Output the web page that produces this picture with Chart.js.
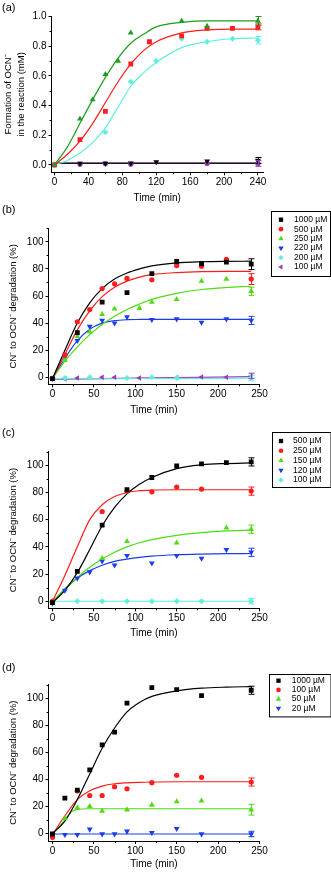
<!DOCTYPE html>
<html>
<head>
<meta charset="utf-8">
<script src="https://cdn.jsdelivr.net/npm/chart.js@4.4.1/dist/chart.umd.min.js"></script>
<style>
  body { margin: 0; background: #fff; }
  #fig { position: relative; width: 331px; height: 874px; overflow: hidden; font-family: "Liberation Sans", Arial, sans-serif; }
  canvas { position: absolute; left: 0; }
  .lbl { position: absolute; left: 2px; font-size: 11px; line-height: 13px; color: #000; z-index: 2; }
</style>
</head>
<body>
<div id="fig">
  <canvas id="ca" width="331" height="208" style="top:0px"></canvas>
  <canvas id="cb" width="331" height="212" style="top:208px"></canvas>
  <canvas id="cc" width="331" height="224" style="top:420px"></canvas>
  <canvas id="cd" width="331" height="230" style="top:644px"></canvas>
  <div class="lbl" style="top:1px">(a)</div>
  <div class="lbl" style="top:203px">(b)</div>
  <div class="lbl" style="top:426px">(c)</div>
  <div class="lbl" style="top:661px">(d)</div>
</div>
<script>
const FONT = '"Liberation Sans", Arial, sans-serif'

// ---- panel (a): OCN- formation (mM)
const timeA = [0, 30, 45, 60, 75, 90, 112, 120, 150, 180, 210, 240]
const aGreen = [0, 0.31, 0.44, 0.61, 0.70, 0.89, null, null, 0.97, 0.935, null, 0.97]
const aRed = [0, 0.17, null, 0.36, null, 0.68, 0.83, null, 0.87, 0.92, 0.92, 0.93]
const aCyan = [0, null, null, 0.22, null, 0.56, null, 0.70, 0.85, 0.83, 0.85, 0.84]
const aBlack = [null, 0.01, null, 0.01, null, 0.012, null, 0.02, null, 0.025, null, 0.03]
const aPurple = [0, 0.005, null, 0.008, null, 0.005, null, null, null, 0.01, null, 0.01]
const aErr = [0.03, 0.02, 0.025, 0.02, 0.02]

const fitTimeA = [0, 15, 30, 45, 60, 75, 90, 105, 120, 150, 180, 210, 240]
const aGreenFit = [0, 0.12, 0.28, 0.44, 0.59, 0.72, 0.82, 0.88, 0.93, 0.96, 0.97, 0.97, 0.97]
const aRedFit = [0, 0.07, 0.16, 0.28, 0.42, 0.56, 0.68, 0.77, 0.83, 0.89, 0.91, 0.915, 0.915]
const aCyanFit = [0, 0.03, 0.08, 0.15, 0.25, 0.39, 0.53, 0.62, 0.69, 0.79, 0.83, 0.85, 0.855]
const flatTimeA = [0, 240]
const aBlackFit = [0.012, 0.012]
const aPurpleFit = [0.01, 0.01]

// ---- panel (b)
const labelsB = ['1000 µM', '500 µM', '250 µM', '220 µM', '200 µM', '100 µM']
const timeB = [0, 15, 30, 45, 60, 75, 90, 105, 120, 150, 180, 210, 240]
const b1000 = [-1, null, 33, null, 55.5, null, 62.5, null, 76.5, 85.5, 84, 85, 83.5]
const b500 = [-1, 16.5, 41, 50, 65.5, 69, 73, null, 72, 82.5, 82, 87, 72.5]
const b250 = [-1, 12.5, 30, 33.5, 46.5, 50.5, null, 51, 55.5, 57.5, 71, 72.5, 63.5]
const b220 = [-1, 15, 27, 37.5, 42, 40, 44.5, null, 42.5, 43, 40.5, 43, 42]
const b200 = [-1, -0.5, null, 0, null, null, -0.5, null, 0, -0.5, null, null, -0.5]
const b100 = [-1, -1.2, -0.5, null, 0, 0, null, -0.5, null, -0.3, 0.2, 0, 1]
const bErr = [4, 4, 3, 3, 2, 2]

const b1000Fit = [-1, 20, 40, 55, 65.5, 72.5, 77, 80, 82.3, 84.5, 85.3, 85.6, 85.7]
const b500Fit = [-1, 17, 35, 49, 59.5, 66.5, 71, 74, 75.8, 77.3, 78, 78.2, 78.2]
const b250Fit = [-1, 12, 22.5, 31.5, 39, 45, 50, 54, 57.5, 62, 64.8, 66.3, 67.2]
const b220Fit = [-1, 14, 27, 35.5, 40, 41.8, 42.5, 42.7, 42.8, 42.8, 42.8, 42.8, 42.8]
const flatTimeB = [0, 120, 240]
const b200Fit = [-1.2, -0.9, -0.7]
const b100Fit = [-1.5, -0.5, 0.4]

// ---- panel (c)
const labelsC = ['500 µM', '250 µM', '150 µM', '120 µM', '100 µM']
const timeC = [0, 15, 30, 45, 60, 75, 90, 105, 120, 150, 180, 210, 240]
const c500 = [-1, null, 22, null, 56, null, 82, null, 91, 99.5, 101, 102, 102.5]
const c250 = [0, null, null, null, 66, null, 81, null, 80.5, 84, 82.5, null, 81]
const c150 = [0, null, null, null, 31.5, null, 44, null, null, 43, null, 54, 53]
const c120 = [-1.5, 8, 17, 21.5, 29.5, 26.5, 33.5, null, 28, 33.5, 31.5, 38, 36]
const c100 = [0, null, 0, null, 0, null, 0, null, 0, 0, 0, null, 0]
const cErr = [3, 3, 3, 3, 2]

const c500Fit = [-1, 8, 21, 38, 55.5, 69, 79, 86, 91, 97.5, 100.3, 101.3, 101.8]
const c250Fit = [0, 19, 40, 60, 71, 77, 80, 81.3, 81.8, 82, 82, 82, 82]
const c150Fit = [0, 9, 17.5, 25, 31, 36, 40, 43, 45.3, 48.5, 50.5, 51.7, 52.3]
const c120Fit = [-1, 9, 17, 22.5, 26.5, 29.3, 31, 32.3, 33.2, 34.2, 34.7, 35, 35.1]
const flatTimeC = [0, 240]
const c100Fit = [0, 0]

// ---- panel (d)
const labelsD = ['1000 µM', '100 µM', '50 µM', '20 µM']
const timeD = [0, 15, 30, 45, 60, 75, 90, 120, 150, 180, 240]
const d1000 = [-0.5, 26, 32, 47, 65.5, 75, 96.5, 108, 106.5, 102, 106]
const d100 = [-3, null, 31.5, 28, 28, 34.5, 33, 37.5, 43, 41.5, 38]
const d50 = [-1, 11, 19, 20, 16.5, null, 17.5, 21, 23.5, 24, 17.5]
const d20 = [-1, -1, -1, 3, -0.5, -0.5, 1.5, 0.5, 3.5, -0.5, -0.5]
const dErr = [3, 3, 4, 2]

const fitTimeD = [0, 15, 30, 45, 60, 75, 90, 105, 120, 150, 180, 210, 240]
const d1000Fit = [0, 9, 25, 44, 63, 78, 90, 97, 101.5, 105.5, 107.5, 108.3, 108.7]
const d100Fit = [-1, 13, 25, 31.5, 35, 36.7, 37.4, 37.8, 38, 38.2, 38.2, 38.2, 38.2]
const d50FitTime = [0, 15, 22, 30, 45, 240]
const d50Fit = [-1, 10, 15.5, 17.8, 18.2, 18.2]
const flatTimeD = [0, 240]
const d20Fit = [-0.5, -0.5]

const BLACK = '#000000', RED = '#ff1c1c', GREEN = '#4fdc12', DKGREEN = '#1e9e1e'
const BLUE = '#1a3cf0', CYAN = '#5ff0dc', PURPLE = '#9a3cbe'

// marker look per series kind
const SQUARE = {pointStyle: 'rect', rotation: 0, pointRadius: 3.4}
const CIRCLE = {pointStyle: 'circle', rotation: 0, pointRadius: 2.6}
const UP = {pointStyle: 'triangle', rotation: 0, pointRadius: 3.4}
const DOWN = {pointStyle: 'triangle', rotation: 180, pointRadius: 3.4}
const DIAMOND = {pointStyle: 'rectRot', rotation: 0, pointRadius: 3}
const LEFT = {pointStyle: 'triangle', rotation: -90, pointRadius: 3.2}

function pts(t, v) {
  return t.map((x, i) => ({x: x, y: v[i]})).filter(p => p.y !== null)
}

function marks(label, t, v, err, color, shape) {
  return Object.assign({
    label: label, data: pts(t, v), showLine: false,
    backgroundColor: color, borderColor: color, borderWidth: 0, err: err
  }, shape)
}

function fit(t, v, color) {
  return {
    data: pts(t, v), showLine: true, pointRadius: 0, borderColor: color,
    borderWidth: 1.2, cubicInterpolationMode: 'monotone'
  }
}

// error bar on the last point of each marker series
const errorBars = {
  id: 'errorBars',
  afterDatasetsDraw(chart) {
    const ctx = chart.ctx, x = chart.scales.x, y = chart.scales.y
    ctx.save()
    ctx.lineWidth = 1
    chart.data.datasets.forEach(d => {
      if (!d.err) return
      const p = d.data[d.data.length - 1]
      const px = Math.round(x.getPixelForValue(p.x)) + 0.5
      const y1 = y.getPixelForValue(p.y - d.err)
      const y2 = y.getPixelForValue(p.y + d.err)
      ctx.strokeStyle = d.borderColor
      ctx.beginPath()
      ctx.moveTo(px, y1); ctx.lineTo(px, y2)
      ctx.moveTo(px - 3, y1); ctx.lineTo(px + 3, y1)
      ctx.moveTo(px - 3, y2); ctx.lineTo(px + 3, y2)
      ctx.stroke()
    })
    ctx.restore()
  }
}

// short minor ticks between the major ones
const minorTicks = {
  id: 'minorTicks',
  afterDraw(chart, args, o) {
    const ctx = chart.ctx, a = chart.chartArea, x = chart.scales.x, y = chart.scales.y
    ctx.save()
    ctx.strokeStyle = '#000'
    ctx.lineWidth = 1
    ctx.beginPath()
    for (let v = o.x[0]; v <= x.max + 1e-9; v += o.x[1]) {
      const px = Math.round(x.getPixelForValue(v)) + 0.5
      ctx.moveTo(px, a.bottom); ctx.lineTo(px, a.bottom + 2)
    }
    for (let v = o.y[0]; v <= y.max + 1e-9; v += o.y[1]) {
      const py = Math.round(y.getPixelForValue(v)) + 0.5
      ctx.moveTo(a.left, py); ctx.lineTo(a.left - 2, py)
    }
    ctx.stroke()
    ctx.restore()
  }
}

// boxed legend to the right of the plot
const boxLegend = {
  id: 'boxLegend',
  afterDraw(chart, args, o) {
    const ctx = chart.ctx
    const items = chart.data.datasets.filter(d => d.label)
    ctx.save()
    ctx.strokeStyle = '#000'
    ctx.lineWidth = 1
    ctx.strokeRect(Math.round(o.x) + 0.5, Math.round(o.y) + 0.5, o.w, o.h)
    ctx.font = '8.5px ' + FONT
    ctx.textBaseline = 'middle'
    ctx.textAlign = 'left'
    items.forEach((d, i) => {
      const yy = o.y + o.first + i * o.row
      ctx.fillStyle = d.backgroundColor
      Chart.helpers.drawPoint(ctx, {pointStyle: d.pointStyle, rotation: d.rotation, radius: d.pointRadius * 0.9, borderWidth: 0}, o.symX, yy)
      ctx.fillStyle = '#000'
      ctx.fillText(d.label, o.textX, yy)
    })
    ctx.restore()
  }
}

function panel(id, c) {
  return new Chart(document.getElementById(id), {
    type: 'scatter',
    data: {datasets: c.datasets},
    options: {
      responsive: false,
      animation: false,
      events: [],
      layout: {padding: {left: 0, top: c.top, right: c.right, bottom: 0}},
      plugins: {
        legend: {display: false},
        tooltip: {enabled: false},
        boxLegend: c.legend,
        minorTicks: {x: c.xMinor, y: c.yMinor}
      },
      scales: {
        x: {
          type: 'linear', min: c.xMin, max: c.xMax,
          border: {color: '#000', width: 1},
          grid: {drawOnChartArea: false, tickLength: 3, tickColor: '#000'},
          ticks: {stepSize: c.xStep, includeBounds: false, color: '#000', padding: 1, maxRotation: 0, autoSkip: false, font: {size: 10, family: FONT}},
          title: {display: true, text: 'Time (min)', color: '#000', font: {size: 10, family: FONT}, padding: {top: 0, bottom: c.xTitlePad}},
          afterFit: s => { s.height = c.xHeight }
        },
        y: {
          type: 'linear', min: c.yMin, max: c.yMax,
          border: {color: '#000', width: 1},
          grid: {drawOnChartArea: false, tickLength: 3, tickColor: '#000'},
          ticks: {stepSize: c.yStep, includeBounds: false, color: '#000', padding: 2, autoSkip: false, font: {size: 10, family: FONT}, callback: c.yFormat},
          title: {display: true, text: c.yTitle, color: '#000', font: {size: 9.5, family: FONT, lineHeight: 1.35}, padding: {top: c.yTitlePad, bottom: 0}},
          afterFit: s => { s.width = c.yWidth }
        }
      }
    },
    plugins: [errorBars, minorTicks, boxLegend]
  })
}

const degTitle = 'CN⁻ to OCN⁻ degradation (%)'

panel('ca', {
  datasets: [
    marks(null, timeA, aGreen, aErr[0], DKGREEN, UP),
    marks(null, timeA, aRed, aErr[1], RED, SQUARE),
    marks(null, timeA, aCyan, aErr[2], CYAN, DIAMOND),
    marks(null, timeA, aBlack, aErr[3], BLACK, DOWN),
    marks(null, timeA, aPurple, aErr[4], PURPLE, CIRCLE),
    fit(fitTimeA, aGreenFit, DKGREEN),
    fit(fitTimeA, aRedFit, RED),
    fit(fitTimeA, aCyanFit, CYAN),
    fit(flatTimeA, aBlackFit, BLACK),
    fit(flatTimeA, aPurpleFit, PURPLE)
  ],
  top: 16.5, right: 68, yWidth: 51.5, xHeight: 35.7, xTitlePad: 4,
  xMin: -3.6, xMax: 246, xStep: 40, xMinor: [20, 40],
  yMin: -0.05, yMax: 1.0, yStep: 0.2, yMinor: [0.1, 0.2],
  yFormat: v => v.toFixed(1),
  yTitle: ['Formation of OCN⁻', 'in the reaction (mM)'], yTitlePad: 2,
  legend: false
})

const bShapes = [SQUARE, CIRCLE, UP, DOWN, DIAMOND, LEFT]
const bColors = [BLACK, RED, GREEN, BLUE, CYAN, PURPLE]
panel('cb', {
  datasets: [
    ...[b1000, b500, b250, b220, b200, b100].map((v, i) => marks(labelsB[i], timeB, v, bErr[i], bColors[i], bShapes[i])),
    fit(timeB, b1000Fit, BLACK),
    fit(timeB, b500Fit, RED),
    fit(timeB, b250Fit, GREEN),
    fit(timeB, b220Fit, BLUE),
    fit(flatTimeB, b200Fit, CYAN),
    fit(flatTimeB, b100Fit, PURPLE)
  ],
  top: 20.3, right: 71.5, yWidth: 48.5, xHeight: 35.7, xTitlePad: 4,
  xMin: -4.8, xMax: 250, xStep: 50, xMinor: [25, 50],
  yMin: -5.2, yMax: 110, yStep: 20, yMinor: [10, 20],
  yTitle: degTitle, yTitlePad: 7,
  legend: {x: 271, y: 3, w: 59, h: 65, first: 8.7, row: 9.47, symX: 281, textX: 294}
})

const cShapes = [SQUARE, CIRCLE, UP, DOWN, DIAMOND]
const cColors = [BLACK, RED, GREEN, BLUE, CYAN]
panel('cc', {
  datasets: [
    ...[c500, c250, c150, c120, c100].map((v, i) => marks(labelsC[i], timeC, v, cErr[i], cColors[i], cShapes[i])),
    fit(timeC, c500Fit, BLACK),
    fit(timeC, c250Fit, RED),
    fit(timeC, c150Fit, GREEN),
    fit(timeC, c120Fit, BLUE),
    fit(flatTimeC, c100Fit, CYAN)
  ],
  top: 31.7, right: 71.5, yWidth: 48.5, xHeight: 35.7, xTitlePad: 5,
  xMin: -4.8, xMax: 250, xStep: 50, xMinor: [25, 50],
  yMin: -5.2, yMax: 110, yStep: 20, yMinor: [10, 20],
  yTitle: degTitle, yTitlePad: 7,
  legend: {x: 271.5, y: 11.7, w: 58.5, h: 55, first: 9.3, row: 9.75, symX: 281, textX: 293}
})

const dShapes = [SQUARE, CIRCLE, UP, DOWN]
const dColors = [BLACK, RED, GREEN, BLUE]
panel('cd', {
  datasets: [
    ...[d1000, d100, d50, d20].map((v, i) => marks(labelsD[i], timeD, v, dErr[i], dColors[i], dShapes[i])),
    fit(fitTimeD, d1000Fit, BLACK),
    fit(fitTimeD, d100Fit, RED),
    fit(d50FitTime, d50Fit, GREEN),
    fit(flatTimeD, d20Fit, BLUE)
  ],
  top: 40.3, right: 71.5, yWidth: 48.5, xHeight: 33, xTitlePad: 4,
  xMin: -4.8, xMax: 250, xStep: 50, xMinor: [25, 50],
  yMin: -5.7, yMax: 110.4, yStep: 20, yMinor: [10, 20],
  yTitle: degTitle, yTitlePad: 7,
  legend: {x: 268.5, y: 30.3, w: 61.5, h: 42.4, first: 6.4, row: 9.2, symX: 278.5, textX: 291.7}
})
</script>
</body>
</html>
